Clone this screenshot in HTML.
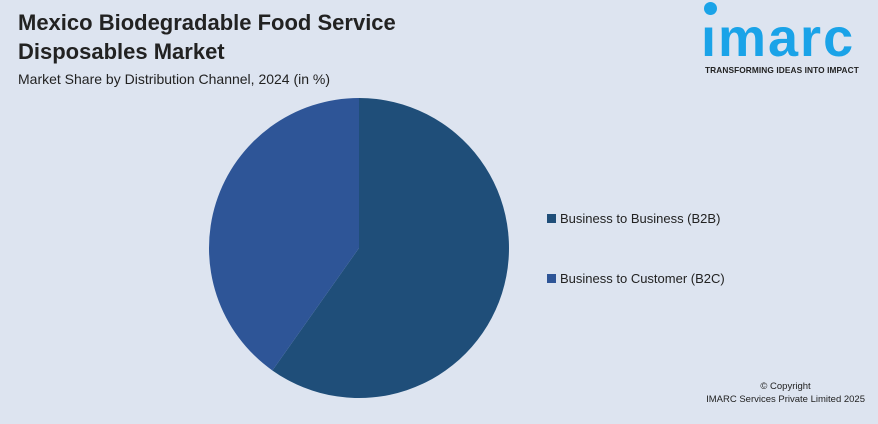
<!DOCTYPE html>
<html><head><meta charset="utf-8"><style>
body{margin:0;width:878px;height:424px;background:#dde4f0;font-family:"Liberation Sans",sans-serif;position:relative;overflow:hidden}
.t{position:absolute;left:18px;top:8px;font-size:22px;font-weight:bold;color:#222;line-height:29px}
.s{position:absolute;left:18px;top:71px;font-size:14px;color:#222}
.lg{position:absolute;left:547px;font-size:13px;color:#222}
.lg span{display:inline-block;width:9px;height:9px;margin-right:4px}
.c{position:absolute;right:13px;top:380px;font-size:9.5px;color:#222;text-align:center;line-height:13px}
</style></head><body>
<div class="t">Mexico Biodegradable Food Service<br>Disposables Market</div>
<div class="s">Market Share by Distribution Channel, 2024 (in %)</div>
<div style="position:absolute;left:703px;top:0;width:170px;height:80px">
<div style="position:absolute;left:1px;top:2px;width:13px;height:13px;border-radius:50%;background:#1aa3e8"></div>
<div style="position:absolute;left:-2px;top:10px;font-size:54px;font-weight:bold;color:#1aa3e8;letter-spacing:2px;line-height:56px">ımarc</div>
<div style="position:absolute;left:2px;top:65px;font-size:8.3px;font-weight:bold;color:#222;white-space:nowrap;letter-spacing:0.1px">TRANSFORMING IDEAS INTO IMPACT</div>
</div>
<svg id="pie" width="878" height="424" style="position:absolute;left:0;top:0"></svg>
<div class="lg" style="top:211px"><span style="background:#1f4e79"></span>Business to Business (B2B)</div>
<div class="lg" style="top:271px"><span style="background:#2e5597"></span>Business to Customer (B2C)</div>
<div class="c">© Copyright<br>IMARC Services Private Limited 2025</div>
<script>
const categories=["Business to Business (B2B)","Business to Customer (B2C)"];
const values=[59.8,40.2];
const colors=["#1f4e79","#2e5597"];
const svg=document.getElementById('pie');
const cx=359,cy=248,r=150;
const total=values.reduce((a,b)=>a+b,0);
let a0=0;
values.forEach((v,i)=>{
 const a1=a0+v/total*2*Math.PI;
 const x0=cx+r*Math.sin(a0),y0=cy-r*Math.cos(a0),x1=cx+r*Math.sin(a1),y1=cy-r*Math.cos(a1);
 const p=document.createElementNS("http://www.w3.org/2000/svg","path");
 p.setAttribute('d',`M${cx},${cy}L${x0},${y0}A${r},${r} 0 ${a1-a0>Math.PI?1:0} 1 ${x1},${y1}Z`);
 p.setAttribute('fill',colors[i]);
 
 
 svg.appendChild(p);
 a0=a1;
});
</script>
</body></html>
